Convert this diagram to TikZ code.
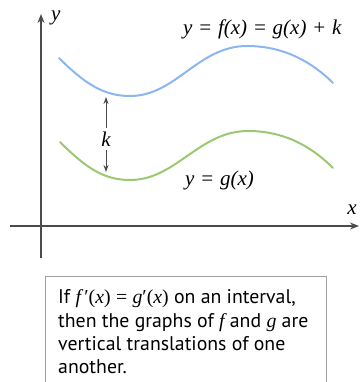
\documentclass[tikz,border=0pt]{standalone}
\usepackage{fontspec}
\setmainfont{Liberation Serif}
\newfontfamily\boxsans{PT Sans}
\usetikzlibrary{arrows.meta}
\definecolor{axisgray}{RGB}{75,75,75}
\definecolor{fblue}{RGB}{140,182,240}
\definecolor{ggreen}{RGB}{155,200,115}
\definecolor{boxgray}{RGB}{160,160,160}
\newcommand{\eqsp}{\hspace{0.27em}}
\tikzset{
  axisline/.style={draw=axisgray,line width=1.3pt,-{Stealth[length=9pt,width=7pt]}},
  curveline/.style={line width=2pt,line cap=round},
  lbl/.style={inner sep=0pt,font=\fontsize{21}{24}\selectfont\itshape},
  boxline/.style={inner sep=0pt,anchor=base west,font=\fontsize{19.8}{23}\selectfont\boxsans},
  karrow/.style={draw=axisgray,line width=0.9pt,-{Stealth[length=7pt,width=5pt]}}
}
\begin{document}
\begin{tikzpicture}[x=1pt,y=-1pt]
\useasboundingbox (0,0) rectangle (359,382);
% axes
\coordinate (yb) at (41,258);
\coordinate (yt) at (41,14);
\coordinate (xl) at (10,226);
\coordinate (xr) at (359,226);
\draw[axisline] (yb) -- (yt);
\draw[axisline] (xl) -- (xr);
\node[lbl,anchor=west] (ylab) at (51,18) {y};
\node[lbl] (xlab) at (352,210) {x};
% curves
\draw[curveline,draw=fblue] (59,58) .. controls (85,84) and (104,96) .. (130,96)
  .. controls (176,96) and (198,46) .. (247,46)
  .. controls (285,46) and (313,63) .. (333,83);
\draw[curveline,draw=ggreen] (60,142) .. controls (86,168) and (104,180) .. (130,180)
  .. controls (176,180) and (199,131) .. (248,131)
  .. controls (286,131) and (313,148) .. (333,168);
% k arrow
\node[lbl] (k) at (106,139) {k};
\coordinate (kt) at (106,97);
\coordinate (kb) at (106,172);
\draw[karrow] (k.north) ++(0,-4) -- (kt);
\draw[karrow] (k.south) ++(0,4) -- (kb);
% labels
\node[lbl,anchor=base west] (flab) at (183,35) {y\eqsp=\eqsp\textit{f}(\textit{x})\eqsp=\eqsp\textit{g}(\textit{x})\eqsp+\eqsp\textit{k}};
\node[lbl,anchor=base west] (glab) at (185,185) {y\eqsp=\eqsp\textit{g}(\textit{x})};
% box
\node[draw=boxgray,line width=1pt,minimum width=281pt,minimum height=106pt,anchor=north west,inner sep=0pt] (box) at (45,276) {};
\node[boxline] (l1) at (58,303) {If {\rmfamily\itshape f}\,{\rmfamily′(\textit{x})\eqsp=\eqsp\textit{g}′(\textit{x})} on an interval,};
\node[boxline] (l2) at (58,327) {then the graphs of {\rmfamily\itshape f} and {\rmfamily\itshape g} are};
\node[boxline] (l3) at (58,350) {vertical translations of one};
\node[boxline] (l4) at (58,373) {another.};
\end{tikzpicture}
\end{document}
